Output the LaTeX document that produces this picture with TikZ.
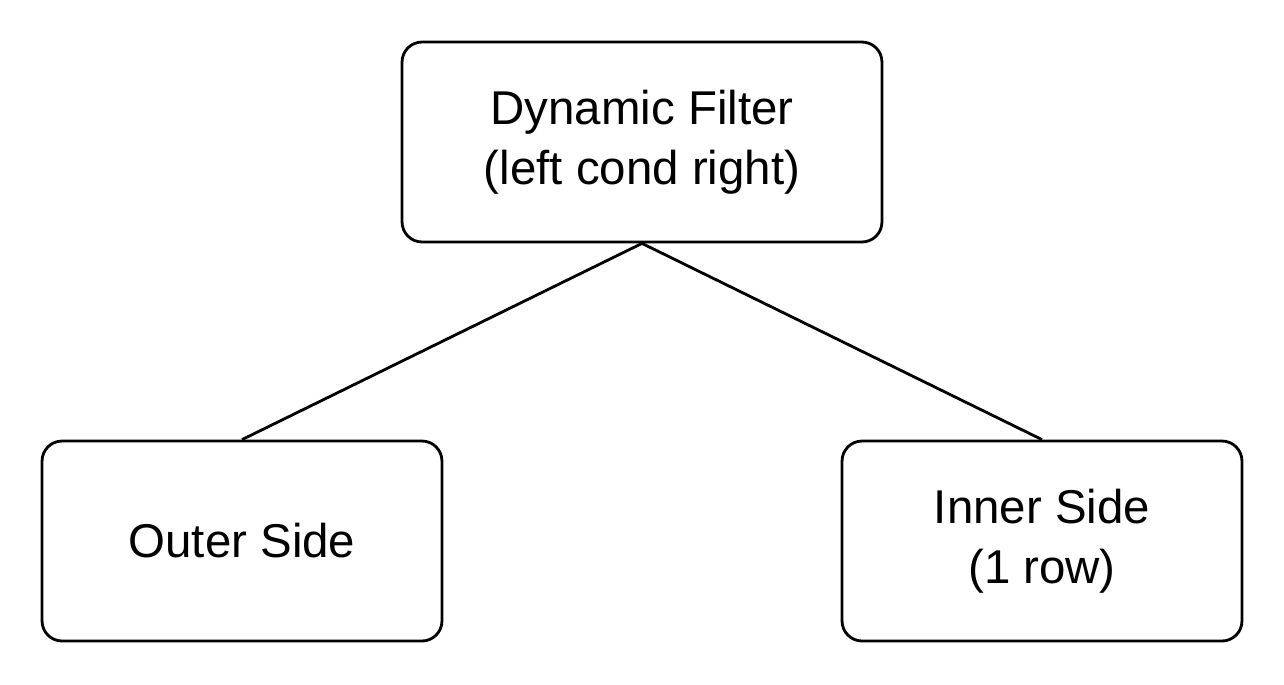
\documentclass[tikz,border=0pt]{standalone}
\usepackage{fontspec}
\setmainfont{Liberation Sans}
\usetikzlibrary{positioning}

\begin{document}
\begin{tikzpicture}[
    x=0.02cm, y=-0.02cm,
    every node/.style={font=\fontsize{27}{34}\selectfont},
    blk/.style={draw,line width=1.6pt,rounded corners=0.4cm,minimum height=4cm,
                align=center,inner sep=0pt},
    fline/.style={line width=1.6pt}
]

% fixed page
\useasboundingbox (0,0) rectangle (1284,684);

% Filter
\node[blk,minimum width=9.6cm] (DF) at (642,142) {Dynamic Filter\\(left cond right)};

% Sides
\node[blk,minimum width=8cm] (OS) at (242,541) {Outer Side};
\node[blk,minimum width=8cm] (IS) at (1042,541) {Inner Side\\(1 row)};

\draw[fline] (DF.south) -- (OS.north);
\draw[fline] (DF.south) -- (IS.north);

\end{tikzpicture}
\end{document}
